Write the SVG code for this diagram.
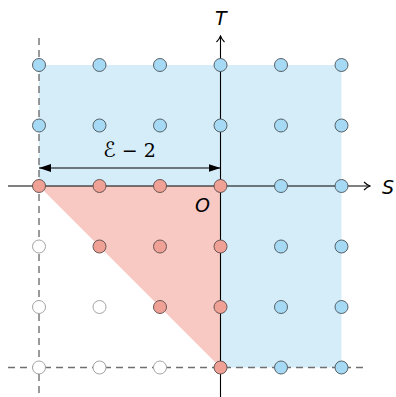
<svg xmlns="http://www.w3.org/2000/svg" width="396" height="397" viewBox="0 0 396 397">
<defs>
<style>
.b{fill:#a6d9f4;stroke:#4a5258;stroke-width:0.9}
.p{fill:#f0a196;stroke:#5a4a48;stroke-width:0.9}
.w{fill:#ffffff;stroke:#9a9a9a;stroke-width:0.9}
.ax{stroke:#000;stroke-width:1.1;fill:none}
.ds{stroke:#707070;stroke-width:1.4;stroke-dasharray:7,5;fill:none}
.lab{font-family:"DejaVu Sans",sans-serif;font-style:oblique;font-size:19px;fill:#000}
</style>
<marker id="open" viewBox="0 0 10 10" refX="9" refY="5" markerWidth="10" markerHeight="10" markerUnits="userSpaceOnUse" orient="auto">
<path d="M3,1 Q6,4 9,5 Q6,6 3,9" fill="none" stroke="#000" stroke-width="1.1"/>
</marker>
<marker id="fill" viewBox="0 0 12 8" refX="12" refY="4" markerWidth="12" markerHeight="8" markerUnits="userSpaceOnUse" orient="auto-start-reverse">
<path d="M0,0 L12,4 L0,8 Z" fill="#000"/>
</marker>
</defs>
<g id="regions">
<path d="M39,65 H341.5 V367.5 H220.5 V186 H39 Z" fill="#d5ecf9"/>
<path d="M39,186 H220.5 V367.5 Z" fill="#f8c8c3"/>
</g>
<g id="connectors">
<line class="ds" x1="39" y1="38" x2="39" y2="397"/>
<line class="ds" x1="8" y1="367.5" x2="368" y2="367.5"/>
<line class="ax" x1="8" y1="186" x2="370" y2="186" marker-end="url(#open)"/>
<line class="ax" x1="220.5" y1="397" x2="220.5" y2="36" marker-end="url(#open)"/>
<line stroke="#000" stroke-width="1.1" x1="39" y1="168" x2="220.5" y2="168" marker-start="url(#fill)" marker-end="url(#fill)"/>
</g>
<g id="points-blue">
<circle class="b" cx="39" cy="65" r="6.5"/><circle class="b" cx="99.5" cy="65" r="6.5"/><circle class="b" cx="160" cy="65" r="6.5"/><circle class="b" cx="220.5" cy="65" r="6.5"/><circle class="b" cx="281" cy="65" r="6.5"/><circle class="b" cx="341.5" cy="65" r="6.5"/>
<circle class="b" cx="39" cy="125.5" r="6.5"/><circle class="b" cx="99.5" cy="125.5" r="6.5"/><circle class="b" cx="160" cy="125.5" r="6.5"/><circle class="b" cx="220.5" cy="125.5" r="6.5"/><circle class="b" cx="281" cy="125.5" r="6.5"/><circle class="b" cx="341.5" cy="125.5" r="6.5"/>
<circle class="b" cx="281" cy="186" r="6.5"/><circle class="b" cx="341.5" cy="186" r="6.5"/>
<circle class="b" cx="281" cy="246.5" r="6.5"/><circle class="b" cx="341.5" cy="246.5" r="6.5"/>
<circle class="b" cx="281" cy="307" r="6.5"/><circle class="b" cx="341.5" cy="307" r="6.5"/>
<circle class="b" cx="281" cy="367.5" r="6.5"/><circle class="b" cx="341.5" cy="367.5" r="6.5"/>
</g>
<g id="points-red">
<circle class="p" cx="39" cy="186" r="6.5"/><circle class="p" cx="99.5" cy="186" r="6.5"/><circle class="p" cx="160" cy="186" r="6.5"/><circle class="p" cx="220.5" cy="186" r="6.5"/>
<circle class="p" cx="99.5" cy="246.5" r="6.5"/><circle class="p" cx="160" cy="246.5" r="6.5"/><circle class="p" cx="220.5" cy="246.5" r="6.5"/>
<circle class="p" cx="160" cy="307" r="6.5"/><circle class="p" cx="220.5" cy="307" r="6.5"/>
<circle class="p" cx="220.5" cy="367.5" r="6.5"/>
</g>
<g id="points-empty">
<circle class="w" cx="39" cy="246.5" r="6.5"/>
<circle class="w" cx="39" cy="307" r="6.5"/><circle class="w" cx="99.5" cy="307" r="6.5"/>
<circle class="w" cx="39" cy="367.5" r="6.5"/><circle class="w" cx="99.5" cy="367.5" r="6.5"/><circle class="w" cx="160" cy="367.5" r="6.5"/>
</g>
<g id="labels">
<text class="lab" x="382" y="194">S</text>
<text class="lab" x="215" y="25">T</text>
<text class="lab" x="195" y="212">O</text>
<text x="129.5" y="157" text-anchor="middle" font-family="DejaVu Serif, serif" font-size="19" fill="#000"><tspan font-family="DejaVu Sans, sans-serif" font-size="21">ℰ</tspan> − 2</text>
</g>
</svg>
